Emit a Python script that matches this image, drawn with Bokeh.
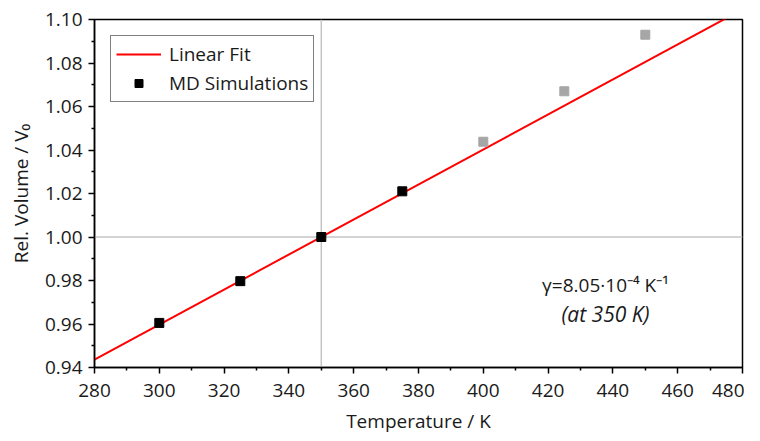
from bokeh.plotting import figure
from bokeh.models import Span, FixedTicker, Range1d, Legend, LegendItem, Label, CustomJSTickFormatter
from bokeh.embed import file_html
from bokeh.resources import INLINE

# Data
md_T = [300, 325, 350, 375]
md_V = [0.9605, 0.9797, 1.0000, 1.0210]
extra_T = [400, 425, 450]
extra_V = [1.0438, 1.0670, 1.0930]
fit_T = [280, 480]
fit_V = [0.94365, 1.10465]
x_ticks = [280, 300, 320, 340, 360, 380, 400, 420, 440, 460, 480]
y_ticks = [0.94, 0.96, 0.98, 1.00, 1.02, 1.04, 1.06, 1.08, 1.10]

FONT = "Open Sans"
FS = "19px"

p = figure(width=744, height=425, output_backend="svg", toolbar_location=None,
           x_range=Range1d(280, 480), y_range=Range1d(0.94, 1.10),
           min_border_left=94, min_border_right=2, min_border_top=19, min_border_bottom=58)
p.frame_width = 648
p.frame_height = 348
p.xgrid.visible = False
p.ygrid.visible = False
p.outline_line_color = "black"
p.outline_line_width = 1.5
p.background_fill_color = "white"
p.border_fill_color = "white"

p.add_layout(Span(location=350, dimension="height", line_color="#c4c4c4", line_width=1.5, level="underlay"))
p.add_layout(Span(location=1.0, dimension="width", line_color="#c4c4c4", line_width=1.5, level="underlay"))

r_fit = p.line(fit_T, fit_V, line_color="#ff0000", line_width=2)
r_md = p.scatter(md_T, md_V, marker="square", size=9, fill_color="black", line_color="black")
p.scatter(extra_T, extra_V, marker="square", size=9, fill_color="#a6a6a6", line_color="#a6a6a6")

for ax, ticks, minor in ((p.xaxis[0], x_ticks, [x + 10 for x in x_ticks[:-1]]),
                         (p.yaxis[0], y_ticks, [round(y + 0.01, 3) for y in y_ticks[:-1]])):
    ax.ticker = FixedTicker(ticks=ticks, minor_ticks=minor)
    ax.axis_line_color = "black"
    ax.axis_line_width = 1.5
    ax.major_tick_line_color = "black"
    ax.major_tick_line_width = 1.5
    ax.minor_tick_line_color = "black"
    ax.minor_tick_line_width = 1.5
    ax.major_tick_in = 0
    ax.major_tick_out = 6
    ax.minor_tick_in = 0
    ax.minor_tick_out = 3
    ax.major_label_text_font = FONT
    ax.major_label_text_font_size = FS
    ax.major_label_text_color = "#1a1a1a"
    ax.axis_label_text_font = FONT
    ax.axis_label_text_font_size = FS
    ax.axis_label_text_font_style = "normal"
    ax.axis_label_text_color = "#1a1a1a"

p.xaxis[0].formatter.use_scientific = False
p.yaxis[0].formatter = CustomJSTickFormatter(code="return tick.toFixed(2);")
p.xaxis[0].major_label_standoff = 10
p.yaxis[0].major_label_standoff = 6
p.xaxis[0].axis_label = "Temperature / K"
p.yaxis[0].axis_label = "Rel. Volume / V\u2080"
p.xaxis[0].axis_label_standoff = 8
p.yaxis[0].axis_label_standoff = 8

legend = Legend(items=[LegendItem(label="Linear Fit", renderers=[r_fit]),
                       LegendItem(label="MD Simulations", renderers=[r_md])])
legend.label_text_font = FONT
legend.label_text_font_size = FS
legend.label_text_color = "#1a1a1a"
legend.border_line_color = "black"
legend.border_line_width = 1.5
legend.padding = 5
legend.spacing = 3
legend.glyph_width = 45
legend.label_standoff = 8
legend.margin = 0
legend.background_fill_alpha = 1
legend.location = (16, 348 - 20 - 63)
p.add_layout(legend)

p.add_layout(Label(x=437.7, y=0.978, text="\u03b3=8.05\u00b710\u207b\u2074 K\u207b\u00b9",
                   text_font=FONT, text_font_size=FS, text_align="center",
                   text_baseline="middle", text_color="#1a1a1a"))
p.add_layout(Label(x=437.7, y=0.9644, text="(at 350 K)",
                   text_font=FONT, text_font_size="21px", text_align="center",
                   text_font_style="italic",
                   text_baseline="middle", text_color="#1a1a1a"))

open("out.html", "w").write(file_html(p, INLINE))
